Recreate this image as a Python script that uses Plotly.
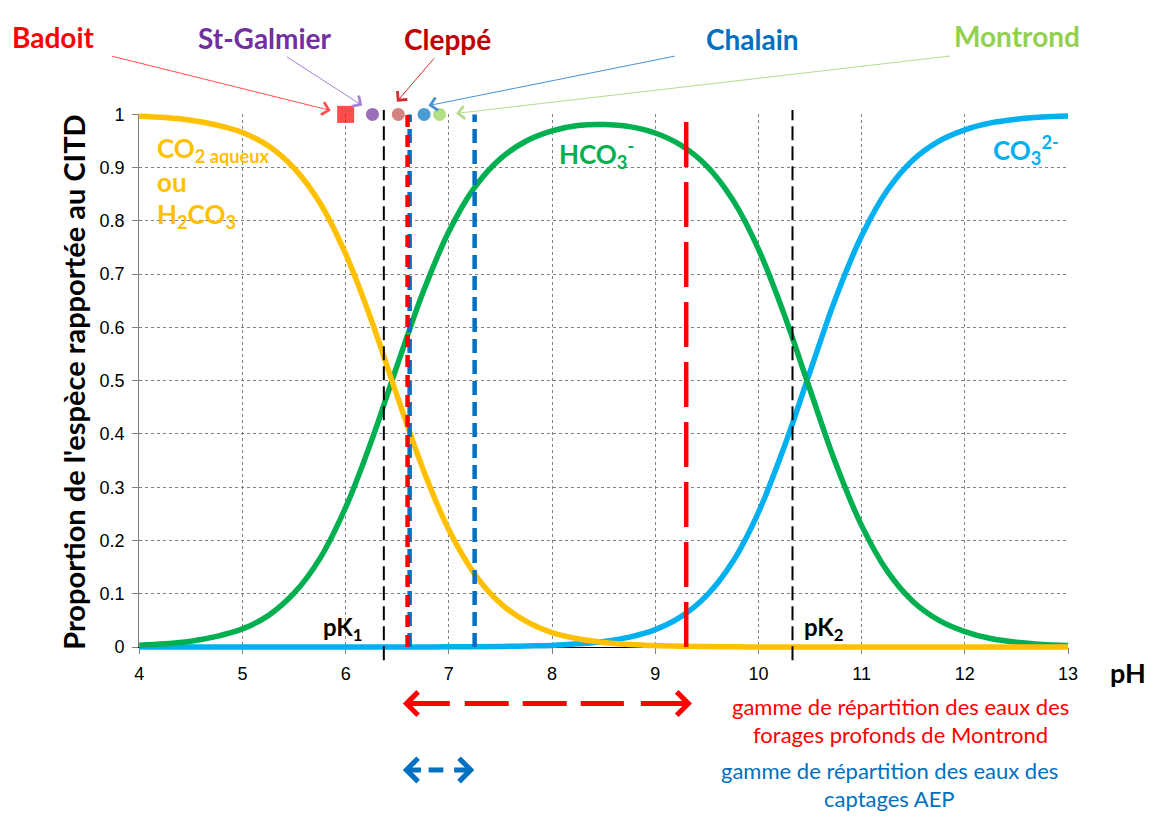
import plotly.graph_objects as go

# ---- data ----
ph = [4.0, 4.25, 4.5, 4.75, 5.0, 5.25, 5.5, 5.75, 6.0, 6.25, 6.5, 6.75, 7.0,
      7.25, 7.5, 7.75, 8.0, 8.25, 8.5, 8.75, 9.0, 9.25, 9.5, 9.75, 10.0,
      10.25, 10.5, 10.75, 11.0, 11.25, 11.5, 11.75, 12.0, 12.25, 12.5, 12.75, 13.0]
co2 = [0.9965, 0.994, 0.989, 0.980, 0.966, 0.941, 0.899, 0.834, 0.738, 0.613,
       0.471, 0.334, 0.220, 0.137, 0.082, 0.048, 0.027, 0.0155, 0.0087, 0.0049,
       0.0027, 0.0015, 0.0008, 0.0004, 0.0002, 0.0001, 0.0, 0.0, 0.0, 0.0, 0.0,
       0.0, 0.0, 0.0, 0.0, 0.0, 0.0]
hco3 = [0.0035, 0.006, 0.011, 0.020, 0.034, 0.059, 0.101, 0.166, 0.262, 0.387,
        0.529, 0.666, 0.780, 0.863, 0.917, 0.950, 0.969, 0.979, 0.981, 0.977,
        0.965, 0.942, 0.903, 0.840, 0.747, 0.624, 0.483, 0.344, 0.228, 0.142,
        0.085, 0.050, 0.029, 0.016, 0.009, 0.005, 0.003]
co3 = [0.0, 0.0, 0.0, 0.0, 0.0, 0.0, 0.0, 0.0, 0.0, 0.0, 0.0001, 0.0002, 0.0003,
       0.0005, 0.001, 0.002, 0.003, 0.006, 0.0105, 0.0186, 0.0327, 0.057, 0.097,
       0.160, 0.253, 0.376, 0.517, 0.656, 0.772, 0.858, 0.915, 0.950, 0.971,
       0.984, 0.991, 0.995, 0.997]

water_names = ["Badoit", "St-Galmier", "Cleppé", "Chalain", "Montrond"]
water_ph = [6.0, 6.26, 6.51, 6.76, 6.91]
water_colors = ["#FF0000", "#7030A0", "#C0504D", "#0070C0", "#92D050"]
label_colors = ["#FF0000", "#7030A0", "#C00000", "#0070C0", "#92D050"]
arrow_colors = ["#FF5050", "#A483D0", "#D03030", "#4A90D0", "#B5DA90"]

pk_values = [6.37, 10.33]
montrond_lines = [6.6, 9.3]
aep_lines = [6.62, 7.25]
montrond_span = [6.554, 9.356]
aep_span = [6.554, 7.247]

x_ticks = [4, 5, 6, 7, 8, 9, 10, 11, 12, 13]

# ---- geometry (pixels of the 1158x818 page) ----
W, H = 1158, 818
X0_PX, X1_PX = 136, 1077      # pH 4 and 13
Y0_PX, Y1_PX = 653, 107       # fraction 0 and 1
PPX = (X1_PX - X0_PX) / 9.0
PPY = (Y0_PX - Y1_PX) / 1.0


def dx(px):
    return 4 + (px - X0_PX) / PPX


def dy(py):
    return (Y0_PX - py) / PPY


def px_paper(px, py):
    return px / W, 1 - py / H


FONT = "Lato, 'Open Sans', sans-serif"

fig = go.Figure()

# empty trace keeps the framed axes
fig.add_trace(go.Scatter(x=[], y=[], xaxis="x", yaxis="y", showlegend=False))

ov = dict(xaxis="x2", yaxis="y2", showlegend=False, hoverinfo="skip")

# species curves
fig.add_trace(go.Scatter(x=ph, y=co3, mode="lines", line=dict(color="#00B0F0", width=5.5, shape="spline"), **ov))
fig.add_trace(go.Scatter(x=ph, y=hco3, mode="lines", line=dict(color="#00B050", width=5.5, shape="spline"), **ov))
fig.add_trace(go.Scatter(x=ph, y=co2, mode="lines", line=dict(color="#FFC000", width=5.5, shape="spline"), **ov))

# pK lines
for pk in pk_values:
    fig.add_trace(go.Scatter(x=[pk, pk], y=[-0.025, 1.008], mode="lines",
                             line=dict(color="black", width=2, dash="14px,6px"), **ov))

# blue range lines (captages AEP)
for xv in aep_lines:
    fig.add_trace(go.Scatter(x=[xv, xv], y=[0, 1], mode="lines",
                             line=dict(color="#0070C0", width=4.5, dash="14px,7px"), **ov))

# red range lines (forages Montrond)
fig.add_trace(go.Scatter(x=[montrond_lines[0]] * 2, y=[0, 1], mode="lines",
                         line=dict(color="#FF0000", width=4.5, dash="12px,8px"), **ov))
fig.add_trace(go.Scatter(x=[montrond_lines[1]] * 2, y=[0, 1], mode="lines",
                         line=dict(color="#FF0000", width=4.5, dash="45px,15px"), **ov))

# waters at y = 1
fig.add_trace(go.Scatter(
    x=water_ph, y=[1] * len(water_ph), mode="markers",
    marker=dict(color=water_colors,
                symbol=["square"] + ["circle"] * (len(water_ph) - 1),
                size=[17] + [13] * (len(water_ph) - 1), line=dict(width=0)),
    **ov))

# range arrows below the axis
y_red = dy(711)
y_blue = dy(779)
fig.add_trace(go.Scatter(x=[montrond_span[0] + 0.60, montrond_span[1] - 0.66], y=[y_red, y_red],
                         mode="lines", line=dict(color="#FF0000", width=5, dash="44px,14px"), **ov))
fig.add_trace(go.Scatter(x=[aep_span[0] + 0.25, aep_span[1] - 0.30], y=[y_blue, y_blue],
                         mode="lines", line=dict(color="#0070C0", width=5), **ov))

annotations = []


def head(x, y, ax, ay, color, width, size, style=4):
    annotations.append(dict(x=x, y=y, ax=ax, ay=ay, xref="x2", yref="y2", axref="x2", ayref="y2",
                            text="", showarrow=True, arrowhead=style, arrowsize=size,
                            arrowwidth=width, arrowcolor=color, standoff=0))


head(montrond_span[0], y_red, montrond_span[0] + 0.47, y_red, "#FF0000", 5, 0.9)
head(montrond_span[1], y_red, montrond_span[1] - 0.51, y_red, "#FF0000", 5, 0.9)
head(aep_span[0], y_blue, aep_span[0] + 0.19, y_blue, "#0070C0", 5, 0.9)
head(aep_span[1], y_blue, aep_span[1] - 0.21, y_blue, "#0070C0", 5, 0.9)

# label arrows to the water markers
tails = [(107, 47), (284, 47), (436, 48), (680, 47), (959, 47)]
heads = [(330, 103), (362, 98), (397, 94), (429, 98), (457, 106)]
for (tx, ty), (hx, hy), c in zip(tails, heads, arrow_colors):
    head(dx(hx), dy(hy), dx(tx), dy(ty), c, 1, 2.5)

# water names
label_pos = [(49, 28), (263, 29), (448, 30), (757, 30), (1025, 27)]
for name, (lx, ly), c in zip(water_names, label_pos, label_colors):
    x, y = px_paper(lx, ly)
    annotations.append(dict(x=x, y=y, xref="paper", yref="paper", text="<b>%s</b>" % name,
                            showarrow=False, xanchor="center", yanchor="middle",
                            font=dict(family=FONT, size=28, color=c)))


def txt(s, lx, ly, color, size, anchor="left", bold=True, angle=0):
    x, y = px_paper(lx, ly)
    annotations.append(dict(x=x, y=y, xref="paper", yref="paper",
                            text=("<b>%s</b>" % s) if bold else s, textangle=angle,
                            showarrow=False, xanchor=anchor, yanchor="middle",
                            font=dict(family=FONT, size=size, color=color)))


txt("CO<sub>2 aqueux</sub>", 152, 143, "#FFC000", 26)
txt("ou", 152, 176, "#FFC000", 26)
txt("H<sub>2</sub>CO<sub>3</sub>", 152, 211, "#FFC000", 26)
txt("HCO<sub>3</sub><sup>-</sup>", 559, 148, "#00B050", 26)
txt("CO<sub>3</sub><sup>2-</sup>", 999, 143, "#00B0F0", 26)
txt("pK<sub>1</sub>", 320, 634, "black", 24)
txt("pK<sub>2</sub>", 807, 634, "black", 24)
txt("pH", 1138, 679, "black", 27, anchor="center")
txt("Proportion de l'espèce rapportée au CITD", 70, 382, "black", 29, anchor="center", angle=-90)
txt("gamme de répartition des eaux des", 907, 714, "#FF0000", 22, anchor="center", bold=False)
txt("forages profonds de Montrond", 907, 743, "#FF0000", 22, anchor="center", bold=False)
txt("gamme de répartition des eaux des", 896, 780, "#0070C0", 22, anchor="center", bold=False)
txt("captages AEP", 896, 808, "#0070C0", 22, anchor="center", bold=False)

grid = dict(showgrid=True, gridcolor="#808080", gridwidth=1, griddash="dot",
            zeroline=False, ticks="outside", ticklen=6, tickcolor="#808080",
            ticklabelstandoff=4,
            tickfont=dict(family="'Liberation Sans', Arial, sans-serif", size=18, color="black"))

fig.update_layout(
    width=W, height=H,
    margin=dict(l=0, r=0, t=0, b=0),
    paper_bgcolor="white", plot_bgcolor="rgba(0,0,0,0)",
    showlegend=False,
    xaxis=dict(domain=[X0_PX / W, X1_PX / W], range=[4, 13], tickvals=x_ticks,
               showline=True, linecolor="black", linewidth=1, anchor="y", **grid),
    yaxis=dict(domain=[1 - Y0_PX / H, 1 - Y1_PX / H], range=[0, 1], tick0=0, dtick=0.1,
               showline=True, linecolor="#808080", linewidth=1, anchor="x", **grid),
    xaxis2=dict(domain=[0, 1], range=[dx(0), dx(W)], visible=False, anchor="y2", fixedrange=True),
    yaxis2=dict(domain=[0, 1], range=[dy(H), dy(0)], visible=False, anchor="x2", fixedrange=True),
    annotations=annotations,
)

fig.write_html("out.html", config={"displayModeBar": False, "responsive": False},
               post_script="document.body.style.margin='0';document.body.style.overflow='hidden';")
